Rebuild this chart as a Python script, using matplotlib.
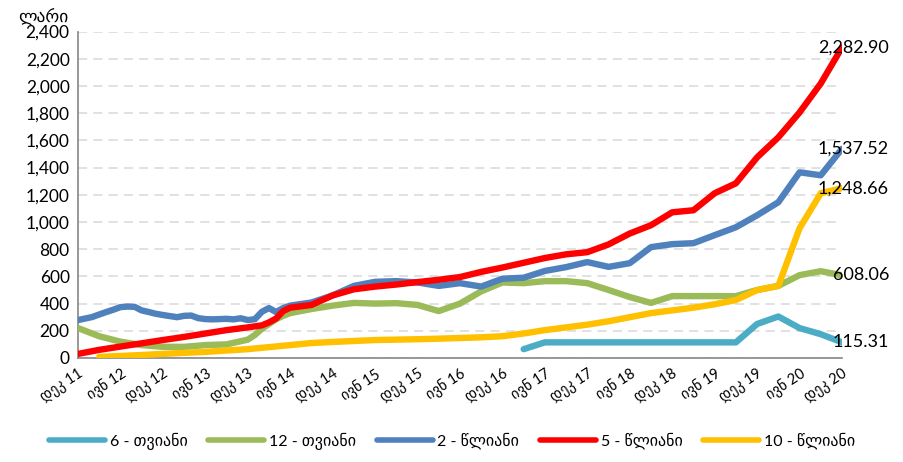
import matplotlib
matplotlib.use("Agg")
import matplotlib.pyplot as plt
from matplotlib.ticker import FuncFormatter, MultipleLocator

plt.rcParams['font.family'] = ['Lato', 'DejaVu Sans']

tick_labels = ["დეკ 11", "ივნ 12", "დეკ 12", "ივნ 13", "დეკ 13", "ივნ 14", "დეკ 14",
               "ივნ 15", "დეკ 15", "ივნ 16", "დეკ 16", "ივნ 17", "დეკ 17", "ივნ 18",
               "დეკ 18", "ივნ 19", "დეკ 19", "ივნ 20", "დეკ 20"]
tick_months = list(range(0, 109, 6))

series_names = ["6 - თვიანი", "12 - თვიანი", "2 - წლიანი", "5 - წლიანი", "10 - წლიანი"]
series_colors = ["#4BACC6", "#9BBB59", "#4F81BD", "#FF0000", "#FFC000"]

m6_months = [63, 66, 69, 72, 75, 78, 81, 84, 87, 90, 93, 96, 99, 102, 105, 108]
m6_values = [65, 115, 115, 115, 115, 115, 115, 115, 115, 115, 115, 250, 305, 220, 175, 115.31]

m12_months = [0, 3, 6, 9, 12, 15, 18, 21, 24, 25, 26, 27, 28, 29, 30, 33, 36, 39, 42, 45, 48,
              51, 54, 57, 60, 63, 66, 69, 72, 75, 78, 81, 84, 87, 90, 93, 96, 99, 102, 105, 108]
m12_values = [220, 160, 120, 95, 82, 82, 95, 100, 135, 169, 215, 250, 285, 310, 330, 360, 385,
              405, 400, 403, 390, 345, 400, 490, 555, 550, 565, 565, 550, 500, 448, 405, 455,
              455, 455, 455, 500, 530, 609, 638, 608.06]

y2_months = [0, 1, 2, 3, 4, 5, 6, 7, 8, 9, 10, 11, 12, 13, 14, 15, 16, 17, 18, 19, 20, 21, 22,
             23, 24, 25, 26, 27, 28, 29, 30, 33, 36, 39, 42, 45, 48, 51, 54, 57, 60, 63, 66,
             69, 72, 75, 78, 81, 84, 87, 90, 93, 96, 99, 102, 105, 108]
y2_values = [279, 290, 301, 320, 338, 355, 374, 378, 376, 350, 338, 325, 316, 308, 300, 310,
             312, 293, 286, 284, 286, 288, 284, 292, 279, 285, 340, 367, 338, 367, 385, 408,
             460, 530, 560, 565, 555, 530, 550, 525, 583, 590, 640, 668, 705, 670, 697, 815,
             837, 844, 903, 961, 1049, 1145, 1365, 1343, 1537.52]

y5_months = [0, 3, 6, 9, 12, 15, 18, 21, 24, 26, 27, 28, 29, 30, 33, 36, 39, 42, 45, 48, 51,
             54, 57, 60, 63, 66, 69, 72, 75, 78, 81, 84, 87, 90, 93, 96, 99, 102, 105, 108]
y5_values = [30, 60, 84, 108, 132, 155, 180, 205, 225, 240, 262, 290, 345, 370, 390, 460, 505,
             525, 540, 558, 575, 595, 633, 665, 700, 735, 762, 778, 835, 915, 976, 1071, 1086,
             1211, 1284, 1475, 1622, 1805, 2018, 2282.90]

y10_months = [3, 6, 9, 12, 15, 18, 21, 24, 27, 30, 33, 36, 39, 42, 45, 48, 51, 54, 57, 60, 63,
              66, 69, 72, 75, 78, 81, 84, 87, 90, 93, 96, 99, 102, 105, 108]
y10_values = [8, 15, 22, 30, 38, 45, 55, 65, 80, 95, 110, 118, 125, 132, 135, 138, 142, 147,
              152, 160, 180, 205, 225, 245, 270, 300, 330, 350, 370, 395, 426, 499, 530, 954,
              1211, 1248.66]

all_months = [m6_months, m12_months, y2_months, y5_months, y10_months]
all_values = [m6_values, m12_values, y2_values, y5_values, y10_values]

fig = plt.figure(figsize=(9.04, 4.62), dpi=100)
ax = fig.add_axes([78 / 904, 1 - 358 / 462, (842 - 78) / 904, (358 - 31.5) / 462])

for i, (mx, vals, name, col) in enumerate(zip(all_months, all_values, series_names, series_colors)):
    ax.plot(mx, vals, color=col, lw=4.6, label=name, solid_capstyle='round',
            solid_joinstyle='round', zorder=3 + i)
    ax.annotate(f"{vals[-1]:,.2f}", xy=(mx[-1], vals[-1]), xytext=(47, 0),
                textcoords='offset pixels', ha='right', va='center', fontsize=13,
                color='black', zorder=10, annotation_clip=False)

ax.set_xlim(0, 108)
ax.set_ylim(0, 2400)
ax.yaxis.set_major_locator(MultipleLocator(200))
ax.yaxis.set_major_formatter(FuncFormatter(lambda v, p: f"{int(v):,}"))
ax.set_xticks(tick_months)
ax.set_xticklabels(tick_labels, rotation=33, ha='right', va='top', rotation_mode='anchor',
                   fontsize=10.5)
ax.tick_params(axis='x', length=0, pad=6)
ax.tick_params(axis='y', length=0, pad=6, labelsize=12.5)

ax.grid(axis='y', color='#D9D9D9', linestyle=(0, (6, 4)), lw=1.1, zorder=0)
ax.set_axisbelow(True)
for s in ['top', 'right']:
    ax.spines[s].set_visible(False)
for s in ['left', 'bottom']:
    ax.spines[s].set_color('#868686')
    ax.spines[s].set_linewidth(1.2)

fig.text(18 / 904, 1 - 17 / 462, "ლარი", fontsize=12.5, ha='left', va='center')

handles, labels = ax.get_legend_handles_labels()
leg = fig.legend(handles, labels, loc='center', bbox_to_anchor=(0.5, 1 - 441 / 462), ncol=5,
                 frameon=False, fontsize=11.5, handlelength=3.5, handletextpad=0.3,
                 columnspacing=1.3)
for line in leg.get_lines():
    line.set_linewidth(4)

fig.savefig("out.png", dpi=100)
